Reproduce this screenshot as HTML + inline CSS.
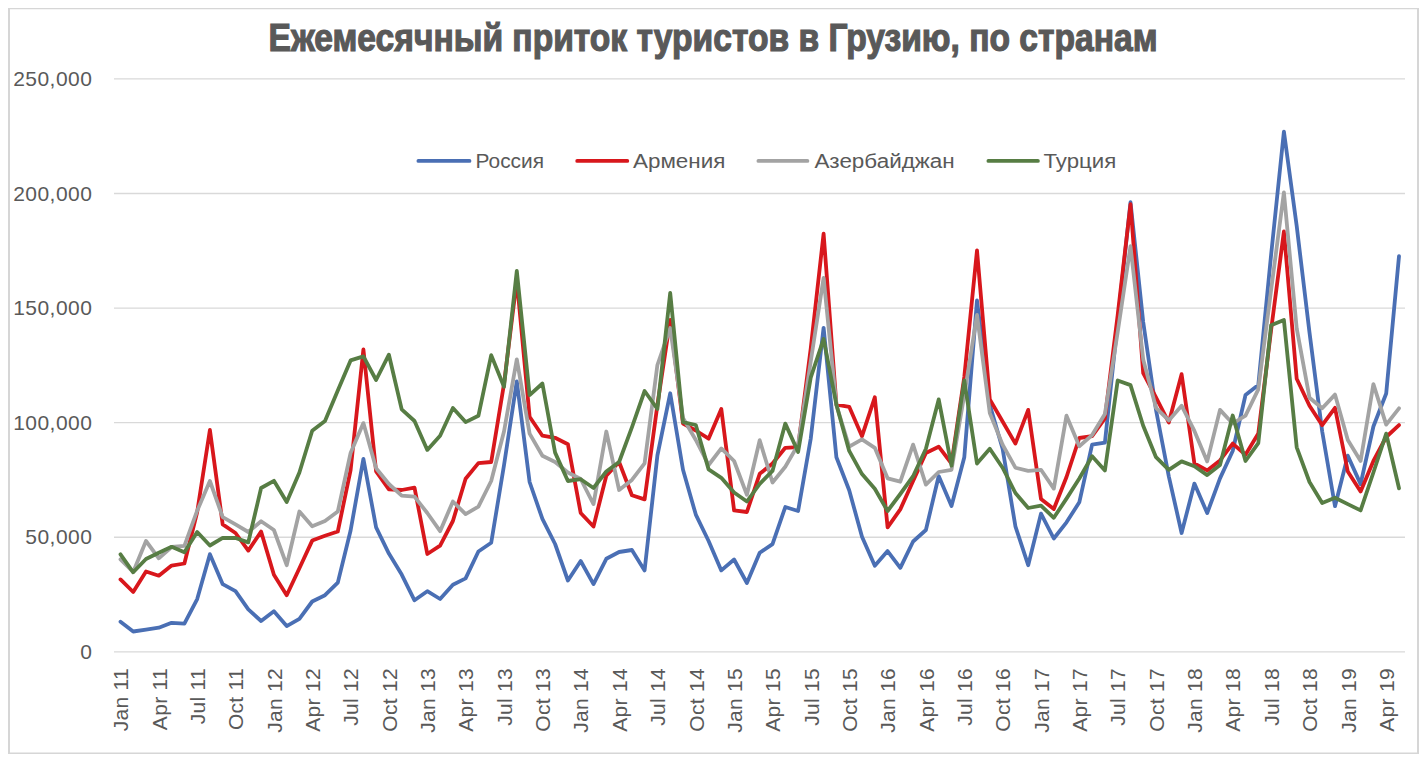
<!DOCTYPE html>
<html><head><meta charset="utf-8"><title>Ежемесячный приток туристов в Грузию, по странам</title>
<style>
html,body{margin:0;padding:0;background:#fff;}
body{width:1426px;height:761px;overflow:hidden;}
svg{display:block;}
text{font-family:"Liberation Sans", "DejaVu Sans", sans-serif;}
.ax{fill:#595959;font-size:21px;letter-spacing:0.3px;}
.ay{fill:#595959;font-size:21px;letter-spacing:0.45px;}
.lg{fill:#595959;font-size:20px;}
.tt{fill:#595959;font-size:38.5px;font-weight:bold;stroke:#595959;stroke-width:1.2px;}
</style></head><body>
<svg width="1426" height="761" viewBox="0 0 1426 761">
<rect x="0" y="0" width="1426" height="761" fill="#fff"/>
<g stroke="#d6d6d6" fill="none">
<line x1="8" y1="8.6" x2="1419" y2="8.6" stroke-width="1.2"/>
<line x1="9" y1="8" x2="9" y2="754" stroke-width="2"/>
<line x1="1418" y1="8" x2="1418" y2="754" stroke-width="2"/>
<line x1="8" y1="753.3" x2="1419" y2="753.3" stroke-width="1.6"/>
</g>
<text class="tt" x="713" y="51" text-anchor="middle" textLength="889" lengthAdjust="spacingAndGlyphs">Ежемесячный приток туристов в Грузию, по странам</text>

<line x1="114" y1="651.84" x2="1405" y2="651.84" stroke="#d9d9d9" stroke-width="1.3"/>
<line x1="114" y1="537.26" x2="1405" y2="537.26" stroke="#d9d9d9" stroke-width="1.3"/>
<line x1="114" y1="422.68" x2="1405" y2="422.68" stroke="#d9d9d9" stroke-width="1.3"/>
<line x1="114" y1="308.10" x2="1405" y2="308.10" stroke="#d9d9d9" stroke-width="1.3"/>
<line x1="114" y1="193.52" x2="1405" y2="193.52" stroke="#d9d9d9" stroke-width="1.3"/>
<line x1="114" y1="78.94" x2="1405" y2="78.94" stroke="#d9d9d9" stroke-width="1.3"/>
<text class="ay" x="92.3" y="658.8" text-anchor="end">0</text>
<text class="ay" x="92.3" y="544.3" text-anchor="end">50,000</text>
<text class="ay" x="92.3" y="429.7" text-anchor="end">100,000</text>
<text class="ay" x="92.3" y="315.1" text-anchor="end">150,000</text>
<text class="ay" x="92.3" y="200.5" text-anchor="end">200,000</text>
<text class="ay" x="92.3" y="85.9" text-anchor="end">250,000</text>
<text class="ax" transform="translate(128.2,668) rotate(-90)" text-anchor="end">Jan 11</text>
<text class="ax" transform="translate(166.5,668) rotate(-90)" text-anchor="end">Apr 11</text>
<text class="ax" transform="translate(204.9,668) rotate(-90)" text-anchor="end">Jul 11</text>
<text class="ax" transform="translate(243.2,668) rotate(-90)" text-anchor="end">Oct 11</text>
<text class="ax" transform="translate(281.6,668) rotate(-90)" text-anchor="end">Jan 12</text>
<text class="ax" transform="translate(319.9,668) rotate(-90)" text-anchor="end">Apr 12</text>
<text class="ax" transform="translate(358.3,668) rotate(-90)" text-anchor="end">Jul 12</text>
<text class="ax" transform="translate(396.6,668) rotate(-90)" text-anchor="end">Oct 12</text>
<text class="ax" transform="translate(435.0,668) rotate(-90)" text-anchor="end">Jan 13</text>
<text class="ax" transform="translate(473.3,668) rotate(-90)" text-anchor="end">Apr 13</text>
<text class="ax" transform="translate(511.7,668) rotate(-90)" text-anchor="end">Jul 13</text>
<text class="ax" transform="translate(550.1,668) rotate(-90)" text-anchor="end">Oct 13</text>
<text class="ax" transform="translate(588.4,668) rotate(-90)" text-anchor="end">Jan 14</text>
<text class="ax" transform="translate(626.8,668) rotate(-90)" text-anchor="end">Apr 14</text>
<text class="ax" transform="translate(665.1,668) rotate(-90)" text-anchor="end">Jul 14</text>
<text class="ax" transform="translate(703.5,668) rotate(-90)" text-anchor="end">Oct 14</text>
<text class="ax" transform="translate(741.8,668) rotate(-90)" text-anchor="end">Jan 15</text>
<text class="ax" transform="translate(780.2,668) rotate(-90)" text-anchor="end">Apr 15</text>
<text class="ax" transform="translate(818.5,668) rotate(-90)" text-anchor="end">Jul 15</text>
<text class="ax" transform="translate(856.9,668) rotate(-90)" text-anchor="end">Oct 15</text>
<text class="ax" transform="translate(895.3,668) rotate(-90)" text-anchor="end">Jan 16</text>
<text class="ax" transform="translate(933.6,668) rotate(-90)" text-anchor="end">Apr 16</text>
<text class="ax" transform="translate(972.0,668) rotate(-90)" text-anchor="end">Jul 16</text>
<text class="ax" transform="translate(1010.3,668) rotate(-90)" text-anchor="end">Oct 16</text>
<text class="ax" transform="translate(1048.7,668) rotate(-90)" text-anchor="end">Jan 17</text>
<text class="ax" transform="translate(1087.0,668) rotate(-90)" text-anchor="end">Apr 17</text>
<text class="ax" transform="translate(1125.4,668) rotate(-90)" text-anchor="end">Jul 17</text>
<text class="ax" transform="translate(1163.7,668) rotate(-90)" text-anchor="end">Oct 17</text>
<text class="ax" transform="translate(1202.1,668) rotate(-90)" text-anchor="end">Jan 18</text>
<text class="ax" transform="translate(1240.4,668) rotate(-90)" text-anchor="end">Apr 18</text>
<text class="ax" transform="translate(1278.8,668) rotate(-90)" text-anchor="end">Jul 18</text>
<text class="ax" transform="translate(1317.2,668) rotate(-90)" text-anchor="end">Oct 18</text>
<text class="ax" transform="translate(1355.5,668) rotate(-90)" text-anchor="end">Jan 19</text>
<text class="ax" transform="translate(1393.9,668) rotate(-90)" text-anchor="end">Apr 19</text>
<line x1="418.4" y1="160.9" x2="469.5" y2="160.9" stroke="#4A6FB4" stroke-width="3.8" stroke-linecap="round"/>
<text class="lg" x="475.5" y="167.7" textLength="68.5" lengthAdjust="spacingAndGlyphs">Россия</text>
<line x1="577.2" y1="160.9" x2="627.3" y2="160.9" stroke="#D8171C" stroke-width="3.8" stroke-linecap="round"/>
<text class="lg" x="633.0" y="167.7" textLength="92.3" lengthAdjust="spacingAndGlyphs">Армения</text>
<line x1="758.4" y1="160.9" x2="807.4" y2="160.9" stroke="#A3A3A3" stroke-width="3.8" stroke-linecap="round"/>
<text class="lg" x="814.4" y="167.7" textLength="140.3" lengthAdjust="spacingAndGlyphs">Азербайджан</text>
<line x1="988.4" y1="160.9" x2="1037.9" y2="160.9" stroke="#577D44" stroke-width="3.8" stroke-linecap="round"/>
<text class="lg" x="1043.5" y="167.7" textLength="72.7" lengthAdjust="spacingAndGlyphs">Турция</text>
<polyline points="120.5,621.7 133.2,631.5 146.0,629.6 158.8,627.7 171.6,622.8 184.4,623.6 197.2,599.1 209.9,554.2 222.7,584.2 235.5,591.2 248.3,609.4 261.1,621.0 273.9,611.3 286.7,626.1 299.4,618.8 312.2,601.5 325.0,595.2 337.8,582.6 350.6,530.5 363.4,458.8 376.1,527.3 388.9,553.6 401.7,574.6 414.5,600.3 427.3,591.2 440.1,599.0 452.9,584.7 465.6,578.4 478.4,551.5 491.2,542.8 504.0,465.2 516.8,381.4 529.6,482.0 542.4,518.9 555.1,544.0 567.9,580.5 580.7,561.0 593.5,584.1 606.3,558.8 619.1,552.0 631.9,550.0 644.6,570.4 657.4,455.5 670.2,393.3 683.0,469.7 695.8,514.6 708.6,541.0 721.3,570.4 734.1,559.5 746.9,583.0 759.7,552.8 772.5,544.1 785.3,507.0 798.1,511.0 810.8,438.3 823.6,327.8 836.4,457.2 849.2,490.2 862.0,536.8 874.8,565.8 887.6,551.1 900.3,567.8 913.1,541.5 925.9,530.0 938.7,476.0 951.5,506.0 964.3,457.2 977.0,300.5 989.8,404.7 1002.6,448.8 1015.4,526.3 1028.2,565.2 1041.0,513.6 1053.8,538.5 1066.5,522.3 1079.3,502.3 1092.1,444.7 1104.9,442.6 1117.7,322.0 1130.5,202.1 1143.2,322.0 1156.0,410.0 1168.8,476.3 1181.6,533.0 1194.4,483.6 1207.2,513.1 1220.0,478.4 1232.7,451.0 1245.5,395.0 1258.3,385.1 1271.1,255.0 1283.9,131.6 1296.7,226.0 1309.5,332.6 1322.2,431.5 1335.0,506.2 1347.8,455.7 1360.6,484.1 1373.4,426.5 1386.2,393.5 1399.0,256.2" fill="none" stroke="#4A6FB4" stroke-width="3.8" stroke-linejoin="round" stroke-linecap="round"/>
<polyline points="120.5,579.4 133.2,592.0 146.0,571.5 158.8,575.7 171.6,565.6 184.4,563.5 197.2,512.0 209.9,430.0 222.7,524.4 235.5,533.0 248.3,550.6 261.1,531.6 273.9,574.8 286.7,595.2 299.4,568.3 312.2,540.6 325.0,535.7 337.8,531.5 350.6,470.0 363.4,349.5 376.1,471.4 388.9,489.3 401.7,490.0 414.5,487.6 427.3,554.0 440.1,545.6 452.9,521.0 465.6,478.8 478.4,463.1 491.2,462.0 504.0,384.0 516.8,280.0 529.6,416.8 542.4,435.7 555.1,437.8 567.9,444.2 580.7,513.0 593.5,526.5 606.3,475.7 619.1,462.0 631.9,495.2 644.6,499.4 657.4,405.0 670.2,320.0 683.0,423.6 695.8,430.5 708.6,438.7 721.3,409.0 734.1,510.4 746.9,512.0 759.7,473.8 772.5,463.5 785.3,447.8 798.1,447.1 810.8,348.0 823.6,233.6 836.4,404.7 849.2,406.8 862.0,436.2 874.8,397.3 887.6,527.3 900.3,509.4 913.1,481.0 925.9,453.0 938.7,446.7 951.5,463.5 964.3,377.0 977.0,250.5 989.8,399.4 1002.6,421.5 1015.4,443.6 1028.2,409.9 1041.0,499.1 1053.8,509.0 1066.5,477.0 1079.3,438.0 1092.1,436.2 1104.9,418.3 1117.7,315.0 1130.5,204.2 1143.2,373.1 1156.0,397.3 1168.8,422.5 1181.6,374.2 1194.4,463.5 1207.2,470.4 1220.0,460.4 1232.7,443.6 1245.5,454.7 1258.3,433.6 1271.1,330.0 1283.9,231.4 1296.7,378.8 1309.5,405.7 1322.2,425.1 1335.0,407.8 1347.8,471.5 1360.6,491.5 1373.4,461.0 1386.2,437.0 1399.0,425.1" fill="none" stroke="#D8171C" stroke-width="3.8" stroke-linejoin="round" stroke-linecap="round"/>
<polyline points="120.5,559.3 133.2,572.0 146.0,541.0 158.8,558.3 171.6,547.0 184.4,545.8 197.2,510.7 209.9,481.0 222.7,517.1 235.5,524.4 248.3,532.0 261.1,521.3 273.9,530.0 286.7,565.2 299.4,511.5 312.2,526.3 325.0,521.0 337.8,511.5 350.6,453.0 363.4,423.1 376.1,468.3 388.9,484.0 401.7,495.7 414.5,496.7 427.3,513.0 440.1,531.2 452.9,501.5 465.6,514.1 478.4,506.7 491.2,481.0 504.0,431.5 516.8,359.3 529.6,433.6 542.4,455.7 555.1,462.0 567.9,472.5 580.7,479.0 593.5,504.1 606.3,431.5 619.1,490.0 631.9,479.9 644.6,463.3 657.4,365.0 670.2,328.0 683.0,418.0 695.8,440.0 708.6,465.0 721.3,448.4 734.1,461.0 746.9,494.8 759.7,440.2 772.5,482.5 785.3,466.7 798.1,444.6 810.8,361.0 823.6,277.8 836.4,405.0 849.2,446.7 862.0,439.4 874.8,447.8 887.6,478.3 900.3,481.7 913.1,444.6 925.9,484.6 938.7,472.0 951.5,469.8 964.3,395.0 977.0,315.0 989.8,413.1 1002.6,444.6 1015.4,467.7 1028.2,470.9 1041.0,469.8 1053.8,488.6 1066.5,415.7 1079.3,446.2 1092.1,435.1 1104.9,414.1 1117.7,332.0 1130.5,246.2 1143.2,359.4 1156.0,407.8 1168.8,420.4 1181.6,405.7 1194.4,430.9 1207.2,461.4 1220.0,409.9 1232.7,423.5 1245.5,415.7 1258.3,389.3 1271.1,290.0 1283.9,192.5 1296.7,328.4 1309.5,397.7 1322.2,408.3 1335.0,394.6 1347.8,440.0 1360.6,461.0 1373.4,384.1 1386.2,424.6 1399.0,408.3" fill="none" stroke="#A3A3A3" stroke-width="3.8" stroke-linejoin="round" stroke-linecap="round"/>
<polyline points="120.5,554.3 133.2,572.3 146.0,559.0 158.8,552.7 171.6,546.8 184.4,552.3 197.2,532.0 209.9,545.5 222.7,537.8 235.5,538.0 248.3,542.4 261.1,488.0 273.9,480.8 286.7,502.0 299.4,472.5 312.2,430.8 325.0,421.0 337.8,390.5 350.6,360.4 363.4,356.4 376.1,380.0 388.9,354.7 401.7,409.4 414.5,421.0 427.3,449.9 440.1,435.7 452.9,408.0 465.6,422.1 478.4,415.8 491.2,355.1 504.0,386.7 516.8,271.0 529.6,395.1 542.4,383.5 555.1,452.6 567.9,481.0 580.7,479.2 593.5,488.0 606.3,471.5 619.1,462.0 631.9,427.3 644.6,391.0 657.4,409.0 670.2,293.0 683.0,422.2 695.8,425.0 708.6,469.4 721.3,477.8 734.1,492.5 746.9,501.5 759.7,483.8 772.5,470.9 785.3,423.6 798.1,452.0 810.8,377.3 823.6,339.0 836.4,404.7 849.2,450.9 862.0,474.1 874.8,488.8 887.6,511.0 900.3,494.0 913.1,476.2 925.9,448.8 938.7,399.4 951.5,465.6 964.3,380.5 977.0,463.5 989.8,448.8 1002.6,467.7 1015.4,493.0 1028.2,508.0 1041.0,505.6 1053.8,517.8 1066.5,498.6 1079.3,478.5 1092.1,456.2 1104.9,470.4 1117.7,380.5 1130.5,385.1 1143.2,425.7 1156.0,457.2 1168.8,469.9 1181.6,461.4 1194.4,466.2 1207.2,475.1 1220.0,465.1 1232.7,415.5 1245.5,461.0 1258.3,443.1 1271.1,325.2 1283.9,320.0 1296.7,447.3 1309.5,482.0 1322.2,503.0 1335.0,497.8 1347.8,504.1 1360.6,510.4 1373.4,472.5 1386.2,433.6 1399.0,488.3" fill="none" stroke="#577D44" stroke-width="3.8" stroke-linejoin="round" stroke-linecap="round"/>
</svg>
</body></html>
